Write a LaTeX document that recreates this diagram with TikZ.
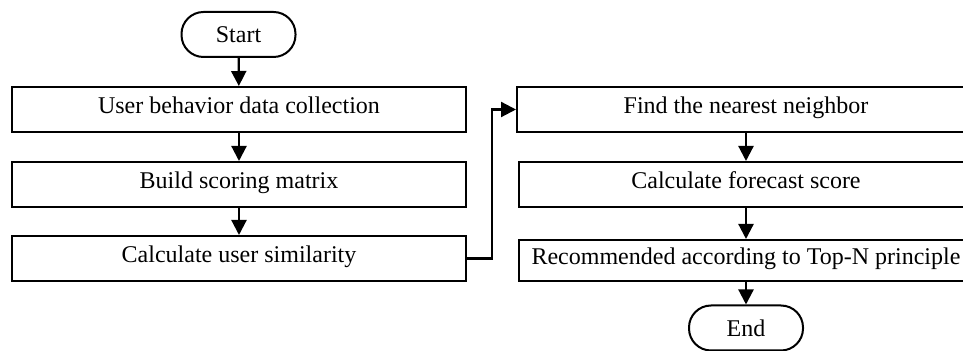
\documentclass[tikz,border=0pt]{standalone}
\usepackage{fontspec}
\setmainfont{Liberation Serif}
\usetikzlibrary{arrows.meta}
\begin{document}
\begin{tikzpicture}[x=0.5pt,y=-0.5pt,
  base/.style={draw,line width=1pt,minimum height=22.5pt,inner sep=0pt,font=\fontsize{12}{14}\selectfont},
  box/.style={base,text height=8pt,text depth=4pt},
  term/.style={base,rounded corners=11pt,minimum width=57pt},
  arr/.style={line width=1.1pt,-{Triangle[length=7.5pt,width=7.5pt]}}]
\useasboundingbox (0,0) rectangle (963,351);
\node[term] (start) at (238.5,34.5) {Start};
\node[box,minimum width=227pt] (b1) at (239,109.5) {User behavior data collection};
\node[box,minimum width=227pt] (b2) at (239,184.5) {Build scoring matrix};
\node[box,minimum width=227pt] (b3) at (239,258.5) {Calculate user similarity};
\node[box,minimum width=229pt] (r1) at (746,109.5) {Find the nearest neighbor};
\node[box,minimum width=227pt] (r2) at (746,184.5) {Calculate forecast score};
\node[box,minimum width=227pt,minimum height=20.5pt,text depth=3.5pt] (r3) at (746,260.5) {Recommended according to Top-N principle};
\node[term] (end) at (746,328) {End};
\coordinate (k) at (492,258.5);
\draw[arr] (start) -- (b1);
\draw[arr] (b1) -- (b2);
\draw[arr] (b2) -- (b3);
\draw[arr] (b3.east) -- (k) |- (r1.west);
\draw[arr] (r1) -- (r2);
\draw[arr] (r2) -- (r3);
\draw[arr] (r3) -- (end);
\end{tikzpicture}
\end{document}
